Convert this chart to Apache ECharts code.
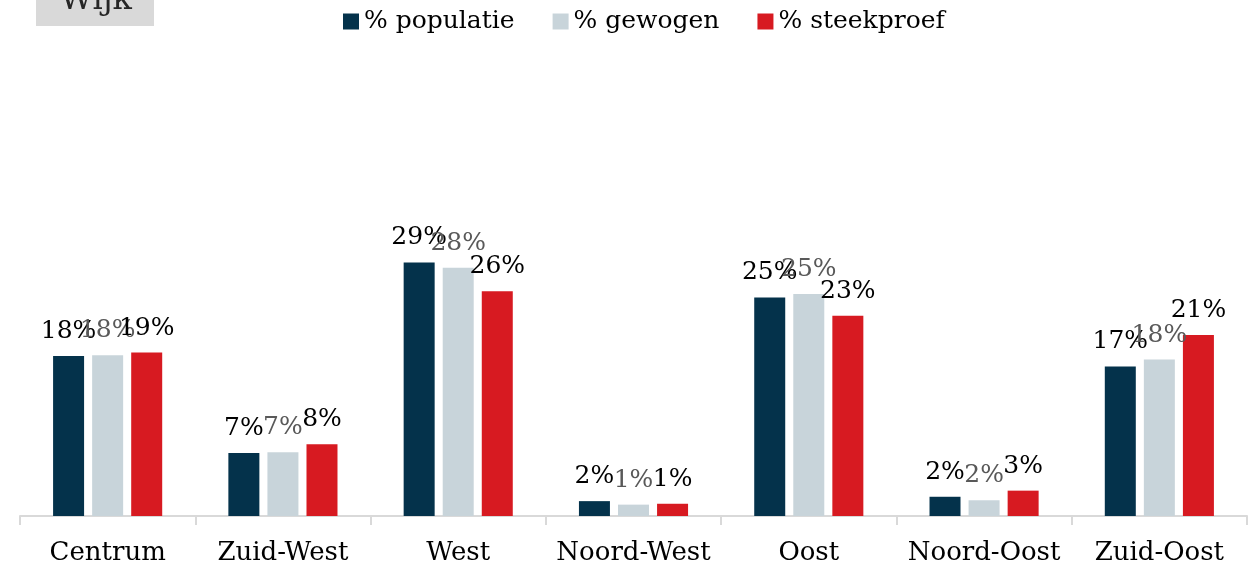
<!DOCTYPE html>
<html>
<head>
<meta charset="utf-8">
<script src="https://cdn.jsdelivr.net/npm/echarts@6/dist/echarts.min.js"></script>
<style>
  html, body { margin: 0; padding: 0; background: #fff; }
  #chart { width: 1258px; height: 566px; }
</style>
</head>
<body>
<div id="chart"></div>
<script>
// wijken
const categories = ['Centrum', 'Zuid-West', 'West', 'Noord-West', 'Oost', 'Noord-Oost', 'Zuid-Oost']

// percentages per wijk
const populatie = [18.3, 7.2, 29.0, 1.7, 25.0, 2.2, 17.1]
const gewogen = [18.4, 7.3, 28.4, 1.3, 25.4, 1.8, 17.9]
const steekproef = [18.7, 8.2, 25.7, 1.4, 22.9, 2.9, 20.7]

const seriesNames = ['% populatie', '% gewogen', '% steekproef']

const font = 'DejaVu Serif'

const chart = echarts.init(document.getElementById('chart'))

const makeSeries = (name, data, color, labelColor) => ({
  name,
  type: 'bar',
  data,
  barWidth: 31,
  barGap: '26%',
  itemStyle: { color },
  label: {
    show: true,
    position: 'top',
    distance: 12,
    fontFamily: font,
    fontSize: 25,
    color: labelColor,
    formatter: p => Math.round(p.value) + '%'
  }
})

const option = {
  animation: false,
  graphic: [
    {
      type: 'rect',
      shape: { x: 36, y: 0, width: 118, height: 26 },
      style: { fill: '#d9d9d9' }
    },
    {
      type: 'text',
      x: 96,
      y: 17,
      style: {
        text: 'Wijk',
        font: '32px "DejaVu Serif"',
        fill: '#262626',
        align: 'center',
        verticalAlign: 'bottom'
      }
    }
  ],
  legend: {
    data: seriesNames,
    left: 338,
    top: 4,
    itemWidth: 16,
    itemHeight: 16,
    itemGap: 38,
    icon: 'rect',
    textStyle: { fontFamily: font, fontSize: 25, color: '#000' }
  },
  grid: {
    left: 20,
    right: 11,
    top: 210,
    bottom: 50
  },
  xAxis: {
    type: 'category',
    data: categories,
    axisLine: { lineStyle: { color: '#d9d9d9', width: 2 } },
    axisTick: { show: true, interval: 0, length: 9, lineStyle: { color: '#d9d9d9', width: 2 } },
    axisLabel: { interval: 0, fontFamily: font, fontSize: 26, color: '#000', margin: 24 }
  },
  yAxis: {
    type: 'value',
    min: 0,
    max: 35,
    show: false
  },
  series: [
    makeSeries(seriesNames[0], populatie, '#04324b', '#000'),
    makeSeries(seriesNames[1], gewogen, '#c8d4da', '#595959'),
    makeSeries(seriesNames[2], steekproef, '#d71a21', '#000')
  ]
}

chart.setOption(option)
</script>
</body>
</html>
